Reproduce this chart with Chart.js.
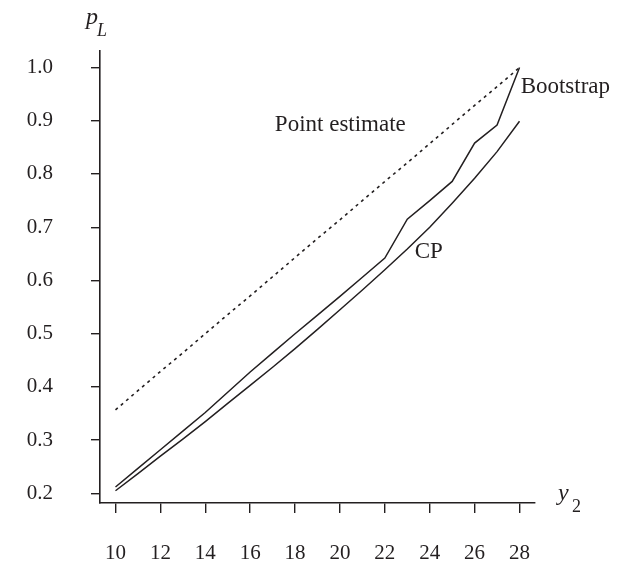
<!DOCTYPE html>
<html>
<head>
<meta charset="utf-8">
<script src="https://cdn.jsdelivr.net/npm/chart.js@4.4.1/dist/chart.umd.min.js"></script>
<style>
  html, body { margin: 0; padding: 0; background: #ffffff; }
  #wrap { width: 618px; height: 569px; position: relative; }
</style>
</head>
<body>
<div id="wrap"><canvas id="c" width="618" height="569"></canvas></div>
<script>
// ---- data ----
const y2Values = [10, 11, 12, 13, 14, 15, 16, 17, 18, 19, 20, 21, 22, 23, 24, 25, 26, 27, 28];
const pointEstimate = [0.357, 0.393, 0.429, 0.464, 0.500, 0.536, 0.571, 0.607, 0.643, 0.679, 0.714, 0.750, 0.786, 0.821, 0.857, 0.893, 0.929, 0.964, 1.000];
const bootstrap = [0.212, 0.247, 0.282, 0.317, 0.352, 0.390, 0.428, 0.464, 0.500, 0.535, 0.570, 0.606, 0.642, 0.715, 0.750, 0.786, 0.858, 0.892, 1.000];
const cpLower = [0.205, 0.237, 0.270, 0.302, 0.335, 0.369, 0.403, 0.437, 0.472, 0.508, 0.545, 0.582, 0.620, 0.659, 0.700, 0.745, 0.792, 0.842, 0.899];
const xTickValues = [10, 12, 14, 16, 18, 20, 22, 24, 26, 28];
const yTickValues = [0.2, 0.3, 0.4, 0.5, 0.6, 0.7, 0.8, 0.9, 1.0];
const seriesLabels = ["Point estimate", "Bootstrap", "CP"];

const INK = '#231f20';
const SERIF = '"Liberation Serif", "DejaVu Serif", serif';

function pts(ys) { return y2Values.map((x, i) => ({ x: x, y: ys[i] })); }

const annotations = {
  id: 'annotations',
  afterDraw(chart) {
    const ctx = chart.ctx;
    const xs = chart.scales.x, ys = chart.scales.y;
    ctx.save();
    ctx.fillStyle = INK;
    ctx.textBaseline = 'middle';
    ctx.textAlign = 'left';
    ctx.font = '23px ' + SERIF;
    ctx.fillText(seriesLabels[0], xs.getPixelForValue(17.1), ys.getPixelForValue(0.892));
    ctx.fillText(seriesLabels[1], xs.getPixelForValue(28.05), ys.getPixelForValue(0.964));
    ctx.fillText(seriesLabels[2], xs.getPixelForValue(23.33), ys.getPixelForValue(0.654));
    // axis titles
    ctx.textBaseline = 'alphabetic';
    ctx.font = 'italic 24px ' + SERIF;
    ctx.fillText('p', 86, 24);
    ctx.font = 'italic 18px ' + SERIF;
    ctx.fillText('L', 97, 36);
    ctx.font = 'italic 24px ' + SERIF;
    ctx.fillText('y', 558, 500);
    ctx.font = '18px ' + SERIF;
    ctx.fillText('2', 572, 512);
    ctx.restore();
  }
};

new Chart(document.getElementById('c'), {
  type: 'line',
  data: {
    datasets: [
      { label: seriesLabels[0], data: pts(pointEstimate), borderColor: INK, borderWidth: 1.6, borderDash: [3, 4], pointRadius: 0, tension: 0, fill: false },
      { label: seriesLabels[1], data: pts(bootstrap), borderColor: INK, borderWidth: 1.5, pointRadius: 0, tension: 0, fill: false },
      { label: seriesLabels[2], data: pts(cpLower), borderColor: INK, borderWidth: 1.5, pointRadius: 0, tension: 0, fill: false }
    ]
  },
  options: {
    responsive: false,
    animation: false,
    layout: { padding: { top: 51, right: 83, left: 0, bottom: 0 } },
    plugins: { legend: { display: false }, tooltip: { enabled: false } },
    scales: {
      x: {
        type: 'linear',
        min: 9.31, max: 28.69,
        afterBuildTicks(s) { s.ticks = xTickValues.map(v => ({ value: v })); },
        afterFit(s) { s.height = 66; },
        border: { display: true, color: INK, width: 1.6 },
        grid: { display: true, drawOnChartArea: false, drawTicks: true, tickLength: 10, color: INK, lineWidth: 1.4 },
        ticks: { color: INK, font: { family: SERIF, size: 21 }, padding: 28, maxRotation: 0, autoSkip: false, callback: v => String(v) }
      },
      y: {
        type: 'linear',
        min: 0.182, max: 1.031,
        afterBuildTicks(s) { s.ticks = yTickValues.map(v => ({ value: v })); },
        afterFit(s) { s.width = 100; },
        border: { display: true, color: INK, width: 1.6 },
        grid: { display: true, drawOnChartArea: false, drawTicks: true, tickLength: 9, color: INK, lineWidth: 1.4 },
        ticks: { color: INK, font: { family: SERIF, size: 21 }, padding: 38, autoSkip: false, callback: v => Number(v).toFixed(1) }
      }
    }
  },
  plugins: [annotations]
});
</script>
</body>
</html>
